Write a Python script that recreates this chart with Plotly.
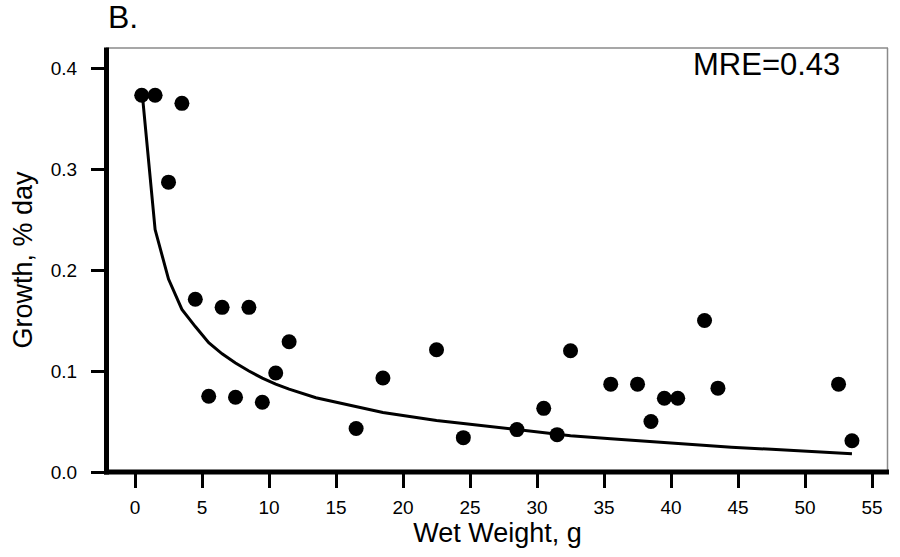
import plotly.graph_objects as go

# Observed data
wet_weight = [0.5, 1.5, 2.5, 3.5, 4.5, 5.5, 6.5, 7.5, 8.5, 9.5, 10.5, 11.5,
              16.5, 18.5, 22.5, 24.5, 28.5, 30.5, 31.5, 32.5, 35.5, 37.5,
              38.5, 39.5, 40.5, 42.5, 43.5, 52.5, 53.5]
growth = [0.373, 0.373, 0.287, 0.365, 0.171, 0.075, 0.163, 0.074, 0.163, 0.069,
          0.098, 0.129, 0.043, 0.093, 0.121, 0.034, 0.042, 0.063, 0.037, 0.120,
          0.087, 0.087, 0.050, 0.073, 0.073, 0.150, 0.083, 0.087, 0.031]

# Fitted curve
fit_x = [0.5, 1.5, 2.5, 3.5, 4.5, 5.5, 6.5, 7.5, 8.5, 9.5, 10.5, 11.5, 13.5,
         15.0, 16.5, 18.5, 20.5, 22.5, 24.5, 26.5, 28.5, 30.5, 32.5, 35.5,
         38.5, 41.5, 44.5, 47.5, 50.5, 53.5]
fit_y = [0.380, 0.240, 0.191, 0.161, 0.144, 0.128, 0.117, 0.108, 0.100, 0.093,
         0.087, 0.082, 0.0735, 0.069, 0.065, 0.059, 0.055, 0.051, 0.048, 0.045,
         0.042, 0.039, 0.036, 0.033, 0.030, 0.027, 0.0245, 0.0225, 0.020, 0.018]

x_ticks = [0, 5, 10, 15, 20, 25, 30, 35, 40, 45, 50, 55]
y_ticks = [0.0, 0.1, 0.2, 0.3, 0.4]
y_tick_text = ["0.0", "0.1", "0.2", "0.3", "0.4"]

FONT = "Liberation Sans, Arial, Helvetica, sans-serif"

fig = go.Figure()
fig.add_trace(go.Scatter(x=fit_x, y=fit_y, mode="lines",
                         line=dict(color="black", width=3), hoverinfo="skip"))
fig.add_trace(go.Scatter(x=wet_weight, y=growth, mode="markers",
                         marker=dict(color="black", size=15, line=dict(width=0))))

L, R, T, B = 107, 888, 48, 472
W, H = 900, 557
pw, ph = R - L, B - T


def px(p):
    return (p - L) / pw


def py(q):
    return (B - q) / ph


shapes = [
    # thin grey frame (top and right)
    dict(type="line", xref="paper", yref="paper", x0=px(106), x1=px(888), y0=py(48), y1=py(48),
         line=dict(color="#8a8a8a", width=1.5)),
    dict(type="line", xref="paper", yref="paper", x0=px(887.5), x1=px(887.5), y0=py(48), y1=py(472),
         line=dict(color="#8a8a8a", width=1.5)),
    # thick black axis lines
    dict(type="line", xref="paper", yref="paper", x0=px(106.5), x1=px(106.5), y0=py(474.5), y1=py(47.5),
         line=dict(color="black", width=5)),
    dict(type="line", xref="paper", yref="paper", x0=px(104), x1=px(889), y0=py(472), y1=py(472),
         line=dict(color="black", width=5)),
]

annotations = [
    dict(text="B.", xref="paper", yref="paper", x=px(106), y=py(37), xanchor="left", yanchor="bottom",
         showarrow=False, font=dict(family=FONT, size=32, color="black")),
    dict(text="MRE=0.43", xref="paper", yref="paper", x=px(842), y=py(84), xanchor="right", yanchor="bottom",
         showarrow=False, font=dict(family=FONT, size=31, color="black")),
]

fig.update_layout(
    width=W, height=H,
    margin=dict(l=L, r=W - R, t=T, b=H - B, pad=0),
    paper_bgcolor="white", plot_bgcolor="white",
    showlegend=False,
    font=dict(family=FONT, color="black"),
    shapes=shapes,
    annotations=annotations,
    xaxis=dict(range=[-2.09, 56.19], tickvals=x_ticks, ticks="outside", ticklen=15, tickwidth=3,
               tickcolor="black", showline=False, showgrid=False, zeroline=False,
               tickfont=dict(family=FONT, size=19, color="black"), ticklabelstandoff=3,
               title=dict(text="Wet Weight, g", font=dict(family=FONT, size=27, color="black"), standoff=6)),
    yaxis=dict(range=[0.0, 0.4198], tickvals=y_ticks, ticktext=y_tick_text, ticks="outside", ticklen=15,
               tickwidth=3, tickcolor="black", showline=False, showgrid=False, zeroline=False,
               tickfont=dict(family=FONT, size=19, color="black"), ticklabelstandoff=10,
               title=dict(text="Growth, % day", font=dict(family=FONT, size=27, color="black"), standoff=10)),
)

fig.write_html("out.html")
